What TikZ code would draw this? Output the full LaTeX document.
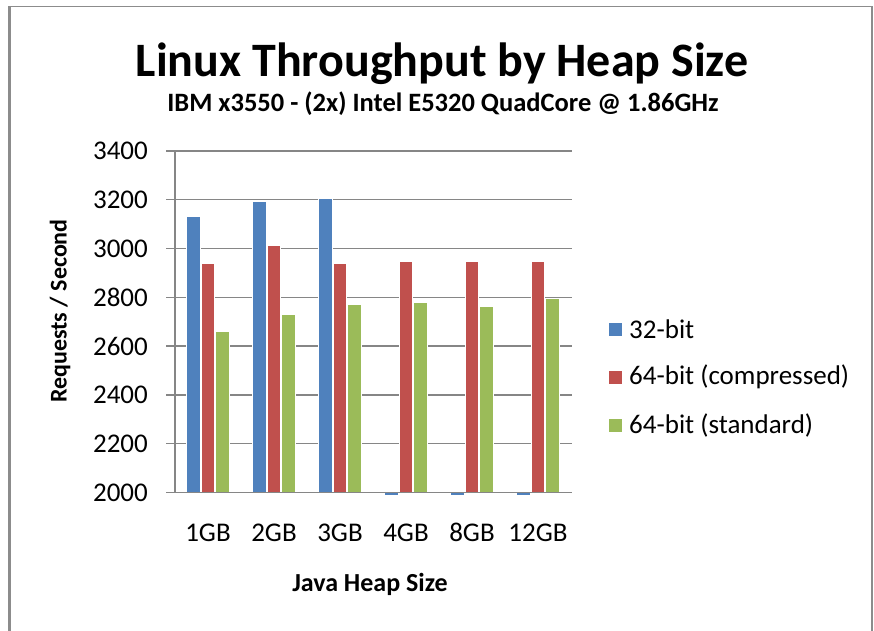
\documentclass[tikz,border=0pt]{standalone}
\usepackage{fontspec}
\setmainfont{Carlito}
\usetikzlibrary{positioning}

\definecolor{serA}{HTML}{4F81BD}
\definecolor{serB}{HTML}{C0504D}
\definecolor{serC}{HTML}{9BBB59}
\definecolor{gridgray}{HTML}{868686}
\definecolor{framegray}{HTML}{8C8C8C}

\tikzset{
  grid line/.style={gridgray, line width=1.4pt},
  bar/.style={draw=white, line width=1pt},
  ticklabel/.style={font=\fontsize{27}{30}\selectfont, anchor=east, inner sep=0pt},
  catlabel/.style={font=\fontsize{27}{30}\selectfont, anchor=base, inner sep=0pt},
  axistitle/.style={font=\bfseries\fontsize{26}{30}\selectfont, inner sep=0pt},
  legendtext/.style={font=\fontsize{27}{30}\selectfont, anchor=west, inner sep=0pt},
}

\begin{document}
\begin{tikzpicture}[x=1pt, y=-1pt]
    \useasboundingbox (0,0) rectangle (874,630);
    \fill[white] (0,0) rectangle (874,630);
    % chart frame
    \draw[framegray, line width=3pt] (9.5,640) -- (9.5,6);
    \draw[framegray, line width=1.5pt] (8,6.5) -- (872,6.5) -- (872,640);

    % titles
    \node[anchor=base, inner sep=0pt, font=\bfseries\fontsize{48}{52}\selectfont] (title) at (442,76) {Linux Throughput by Heap Size};
    \node[anchor=base, inner sep=0pt, font=\bfseries\fontsize{26.5}{30}\selectfont] (subtitle) at (443,111) {IBM x3550 - (2x) Intel E5320 QuadCore @ 1.86GHz};

    % grid and value labels
    \foreach \v [count=\j from 0] in {2000,2200,2400,2600,2800,3000,3200,3400} {
        \pgfmathsetmacro\gy{492.5-48.8*\j}
        \draw[grid line] (166,\gy) -- (571.5,\gy);
        \node[ticklabel] (tick\v) at (148,\gy) {\v};
    }

    % bars
    \foreach \cat/\a/\b/\c [count=\i from 0] in {1GB/3130/2940/2658, 2GB/3192/3014/2730, 3GB/3206/2940/2772, 4GB/1988/2948/2778, 8GB/1988/2948/2764, 12GB/1988/2948/2795} {
        \pgfmathsetmacro\gx{175+66*\i}
        \pgfmathsetmacro\ya{492.5-(\a-2000)*0.244}
        \pgfmathsetmacro\yb{492.5-(\b-2000)*0.244}
        \pgfmathsetmacro\yc{492.5-(\c-2000)*0.244}
        \filldraw[bar, fill=serA] (\gx+11.5,492.5) rectangle (\gx+25,\ya);
        \filldraw[bar, fill=serB] (\gx+26,492.5) rectangle (\gx+39.5,\yb);
        \filldraw[bar, fill=serC] (\gx+40.5,492.5) rectangle (\gx+54,\yc);
        \node[catlabel] (cat\i) at (\gx+33,541) {\cat};
    }

    % axes
    \draw[grid line] (175,150.8) -- (175,492.5);
    \draw[grid line] (166,492.5) -- (571.5,492.5);

    % axis titles
    \node[axistitle, rotate=90, font=\bfseries\fontsize{24}{28}\selectfont] (ytitle) at (60,311) {Requests / Second};
    \node[axistitle, anchor=base] (xtitle) at (370,591) {Java Heap Size};

    % legend
    \foreach \name/\col/\yy [count=\k] in {32-bit/serA/329, 64-bit (compressed)/serB/377, 64-bit (standard)/serC/425.5} {
        \fill[\col] (609,\yy-6.5) rectangle (622,\yy+6.5);
        \node[legendtext] (leg\k) at (629,\yy) {\name};
    }
\end{tikzpicture}
\end{document}
